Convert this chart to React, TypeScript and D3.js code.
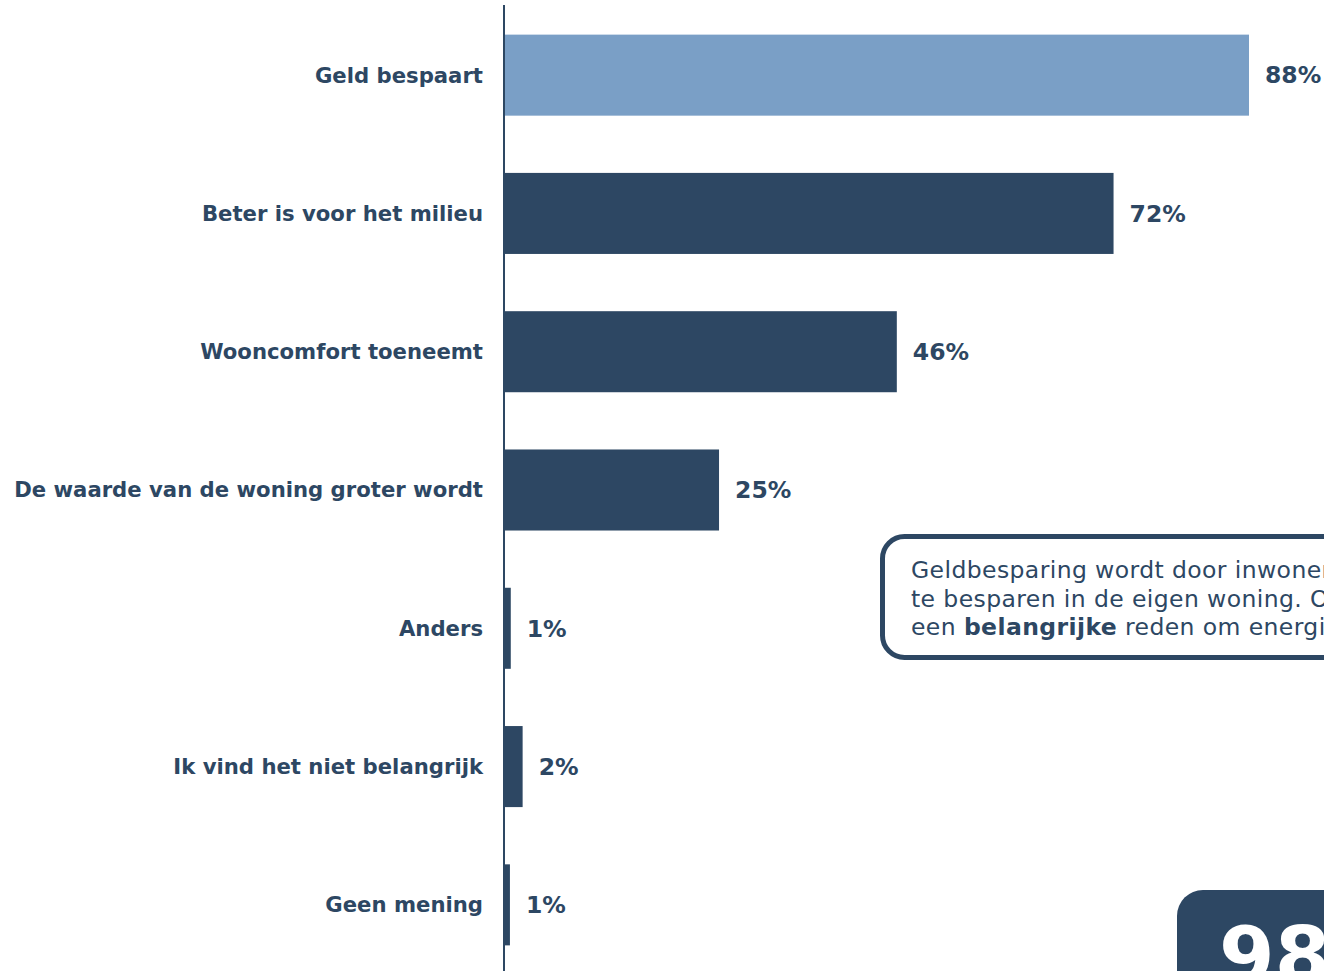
import React from "react";
import * as d3 from "d3";

const categories = [
  "Geld bespaart",
  "Beter is voor het milieu",
  "Wooncomfort toeneemt",
  "De waarde van de woning groter wordt",
  "Anders",
  "Ik vind het niet belangrijk",
  "Geen mening",
];
const values = [88, 72, 46.4, 25.4, 0.8, 2.2, 0.7];
const highlighted = ["Geld bespaart"];
const calloutLines = [
  [{ t: "Geldbesparing wordt door inwoners het vaakst genoemd als reden om energie", b: false }],
  [{ t: "te besparen in de eigen woning. Ook het milieu is voor veel inwoners", b: false }],
  [
    { t: "een ", b: false },
    { t: "belangrijke", b: true },
    { t: " reden om energie te besparen.", b: false },
  ],
];
const badgeText = "98";

const W = 1324;
const H = 971;
const DARK = "#2d4763";
const LIGHT = "#7a9fc6";
const FONT = "'DejaVu Sans', Verdana, sans-serif";

export default function App() {
  const x0 = 504;
  const x = d3.scaleLinear().domain([0, 88]).range([x0, 1249]);
  const y = d3
    .scaleBand<string>()
    .domain(categories)
    .range([6, 974])
    .paddingInner(0.414)
    .paddingOuter(0.207);
  const bw = y.bandwidth();

  return (
    <svg
      width={W}
      height={H}
      style={{ position: "absolute", left: 0, top: 0, background: "#fff" }}
      fontFamily={FONT}
    >
      {categories.map((c, i) => {
        const yy = y(c)!;
        const v = values[i];
        return (
          <g key={c}>
            <rect
              x={x0}
              y={yy}
              width={x(v) - x0}
              height={bw}
              fill={highlighted.includes(c) ? LIGHT : DARK}
            />
            <text
              x={x0 - 21}
              y={yy + bw / 2}
              dy="0.35em"
              textAnchor="end"
              fontWeight="bold"
              fontSize={21.2}
              fill={DARK}
            >
              {c}
            </text>
            <text
              x={x(v) + 16}
              y={yy + bw / 2}
              dy="0.35em"
              fontWeight="bold"
              fontSize={23.5}
              fill={DARK}
            >
              {Math.round(v) + "%"}
            </text>
          </g>
        );
      })}
      <line x1={x0} x2={x0} y1={5} y2={H} stroke={DARK} strokeWidth={2} />

      <rect
        x={882.5}
        y={536.5}
        width={600}
        height={121}
        rx={22}
        ry={22}
        fill="#fff"
        stroke={DARK}
        strokeWidth={5}
      />
      {calloutLines.map((line, i) => (
        <text
          key={i}
          x={911}
          y={578 + i * 28.7}
          fontSize={23.5}
          letterSpacing={0.4}
          fill={DARK}
        >
          {line.map((s, j) => (
            <tspan key={j} fontWeight={s.b ? "bold" : "normal"}>
              {s.t}
            </tspan>
          ))}
        </text>
      ))}

      <rect x={1177} y={890} width={300} height={200} rx={26} ry={26} fill={DARK} />
      <text x={1219} y={984} fontSize={80} fontWeight="bold" fill="#fff">
        {badgeText}
      </text>
    </svg>
  );
}
